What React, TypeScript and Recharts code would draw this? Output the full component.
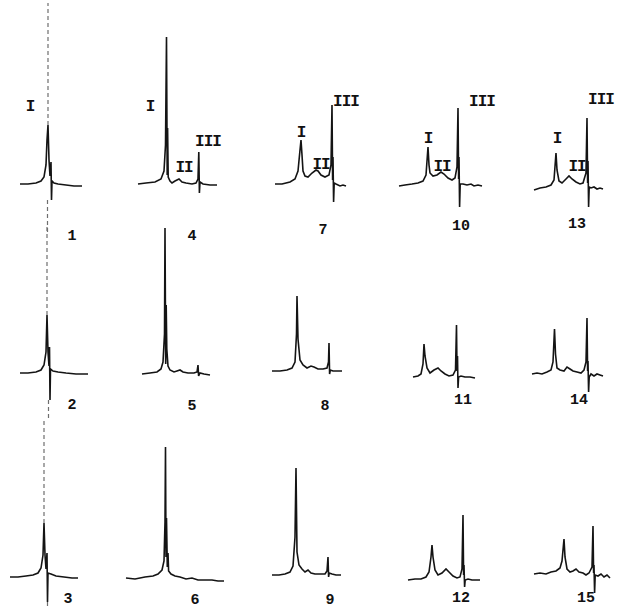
import React from "react";
import { LineChart, Line, XAxis, YAxis } from "recharts";

// traces: [time, response] pairs, response measured from each row's baseline
const trace1: [number, number][] = [[20,1],[28,1],[36,2],[41,4],[44,8],[46,20],[47,45],[48,60],[49,25],[50,9],[51,23],[51.5,-15],[52,4],[54,2],[58,1],[66,0],[74,-1],[82,-1]];
const trace2: [number, number][] = [[20,1],[28,1],[36,2],[41,4],[44,9],[46,22],[47,59],[48,22],[49,8],[49.5,27],[50,-26],[50.5,5],[53,3],[58,2],[66,1],[76,0],[88,0]];
const trace3: [number, number][] = [[10,0],[18,0],[26,1],[33,2],[38,4],[41,9],[43,22],[44,54],[45,22],[46,8],[47,24],[47.5,-25],[48,4],[51,3],[56,1],[64,0],[72,-1],[78,-1]];
const trace4: [number, number][] = [[18,1],[26,2],[35,3],[41,6],[44,14],[45.5,40],[46.5,148],[47.2,10],[47.6,57],[48.2,8],[50,4],[52,2],[55,4],[59,6],[62,3],[66,2],[72,1],[76,2],[78,6],[78.8,33],[79.4,-8],[80,3],[83,1],[90,0],[97,0]];
const trace5: [number, number][] = [[22,0],[30,1],[37,2],[41,5],[43,12],[44.5,40],[45,146],[45.7,10],[46.2,69],[46.8,25],[48,8],[50,4],[54,2],[57,3],[60,4],[63,2],[68,1],[74,1],[77,2],[78,9],[78.6,-2],[80,1],[84,0],[90,-1]];
const trace6: [number, number][] = [[6,-1],[15,-2],[25,0],[33,1],[38,3],[42,7],[44,16],[45,55],[45.5,130],[46,20],[46.5,59],[47.3,10],[48,24],[48.6,6],[51,3],[55,1],[60,0],[66,-2],[72,-1],[78,-3],[85,-3],[92,-3],[98,-4],[104,-4]];
const trace7: [number, number][] = [[15,1],[22,1],[30,3],[35,6],[38,14],[40,35],[41,45],[42,30],[43,14],[45,9],[48,8],[52,12],[56,15],[58,14],[61,10],[65,8],[69,10],[71,20],[72,80],[72.6,5],[73,28],[73.6,-17],[74.2,2],[76,1],[80,-1],[83,0],[86,-1]];
const trace8: [number, number][] = [[12,3],[20,3],[27,4],[32,6],[35,12],[36.5,40],[37,78],[38,35],[40,14],[43,9],[47,6],[51,8],[54,7],[58,5],[63,5],[67,6],[68.5,12],[69,31],[69.6,0],[70.3,4],[73,3],[78,3],[82,3]];
const trace9: [number, number][] = [[12,2],[19,2],[25,3],[30,5],[33,11],[35,40],[36,109],[37,25],[39,12],[42,8],[45,5],[48,7],[51,4],[55,3],[60,3],[65,3],[67,6],[68,20],[68.6,0],[69.2,4],[72,3],[76,2],[81,2]];
const trace10: [number, number][] = [[9,-1],[15,0],[22,1],[28,2],[33,4],[36,10],[38,38],[39,20],[40,12],[43,9],[47,10],[51,13],[54,11],[58,7],[62,5],[65,7],[67,18],[68,77],[68.6,6],[69,28],[69.6,-22],[70.2,1],[73,1],[77,0],[81,1],[84,-1],[88,0],[92,-1]];
const trace11: [number, number][] = [[23,-3],[28,-2],[31,0],[33,10],[34,30],[35,18],[37,6],[40,1],[44,4],[48,6],[51,3],[55,0],[59,-2],[63,-1],[65.5,4],[66.5,49],[67,3],[67.5,18],[68,-14],[68.6,-3],[71,-2],[75,-3],[80,-3],[85,-4]];
const trace12: [number, number][] = [[18,-3],[25,-2],[31,-2],[36,0],[39,5],[41,20],[42,32],[43,20],[45,7],[48,2],[52,4],[56,8],[59,5],[63,1],[67,-1],[70,0],[72,8],[73,62],[73.6,2],[74,12],[74.6,-10],[75.2,-3],[78,-2],[82,-3],[86,-3],[90,-3]];
const trace13: [number, number][] = [[14,-5],[20,-3],[26,-2],[31,0],[34,5],[36,32],[37,15],[39,4],[42,2],[46,6],[49,9],[52,6],[56,3],[60,1],[63,2],[66,12],[67,67],[67.6,2],[68,24],[68.6,-22],[69.2,-2],[71,-3],[74,-2],[77,-4],[80,-3],[83,-4]];
const trace14: [number, number][] = [[12,0],[17,1],[22,0],[27,2],[31,4],[33,12],[34.5,45],[35.5,20],[37,6],[40,4],[44,3],[47,7],[50,5],[53,3],[57,2],[61,1],[64,4],[66,12],[67,56],[67.6,3],[68,13],[68.6,-18],[69.2,-3],[71,0],[74,-2],[77,0],[80,-1],[83,-2]];
const trace15: [number, number][] = [[14,3],[20,4],[26,3],[31,5],[36,6],[40,9],[42,16],[44,38],[45,20],[47,8],[50,5],[53,6],[56,8],[59,5],[63,4],[66,2],[69,4],[72,10],[73,51],[73.6,4],[74,12],[74.6,-16],[75.2,2],[78,1],[81,3],[84,0],[87,2],[90,-1]];

// faint off-scale pen stroke of the main peak in the first column
const pen1: [number, number | null][] = [[48,60],[48,182],[48,null],[47.5,-15],[47.5,-50]];
const pen2: [number, number | null][] = [[47,59],[47,150],[47,null],[48.5,-26],[48.5,-46]];
const pen3: [number, number | null][] = [[44,54],[44,157],[44,null],[47.5,-25],[47.5,-32]];

const sampleNumbers = ["1", "2", "3", "4", "5", "6", "7", "8", "9", "10", "11", "12", "13", "14", "15"];
const peakNames = ["I", "II", "III"];

const ROWS = [
  { baseline: 185, top: 182, bottom: 50 },
  { baseline: 374, top: 150, bottom: 46 },
  { baseline: 577, top: 157, bottom: 32 },
];
const COLS = [0, 120, 260, 390, 520];

const panels = [
  { trace: trace1, pen: pen1, row: 0, col: 0, num: [72, 236] },
  { trace: trace2, pen: pen2, row: 1, col: 0, num: [72, 405] },
  { trace: trace3, pen: pen3, row: 2, col: 0, num: [68, 599] },
  { trace: trace4, row: 0, col: 1, num: [192, 236] },
  { trace: trace5, row: 1, col: 1, num: [192, 406] },
  { trace: trace6, row: 2, col: 1, num: [195, 600] },
  { trace: trace7, row: 0, col: 2, num: [323, 230] },
  { trace: trace8, row: 1, col: 2, num: [325, 406] },
  { trace: trace9, row: 2, col: 2, num: [330, 600] },
  { trace: trace10, row: 0, col: 3, num: [461, 226] },
  { trace: trace11, row: 1, col: 3, num: [463, 400] },
  { trace: trace12, row: 2, col: 3, num: [461, 598] },
  { trace: trace13, row: 0, col: 4, num: [577, 224] },
  { trace: trace14, row: 1, col: 4, num: [579, 400] },
  { trace: trace15, row: 2, col: 4, num: [586, 598] },
];

// peak label placements in the first row: [peak index, x, y]
const peakLabels: [number, number, number][] = [
  [0, 30, 107],
  [0, 150, 107], [1, 184, 168], [2, 208, 142],
  [0, 301, 133], [1, 321, 165], [2, 346, 102],
  [0, 428, 139], [1, 442, 167], [2, 482, 102],
  [0, 557, 139], [1, 577, 167], [2, 601, 100],
];

const textStyle: React.CSSProperties = {
  position: "absolute",
  transform: "translate(-50%, -50%)",
  fontFamily: "'Liberation Mono', 'DejaVu Sans Mono', monospace",
  fontWeight: "bold",
  fontSize: 15,
  color: "#111",
  lineHeight: 1,
  whiteSpace: "nowrap",
};

function Panel({ trace, pen, row, col }: any) {
  const { baseline, top, bottom } = ROWS[row];
  const width = 110;
  const height = top + bottom;
  const data = trace.map(([t, r]: [number, number]) => ({ t, r }));
  const penData = pen ? pen.map(([t, r]: [number, number | null]) => ({ t, r })) : null;
  return (
    <div style={{ position: "absolute", left: COLS[col], top: baseline - top, width, height }}>
      <LineChart width={width} height={height} margin={{ top: 0, right: 0, bottom: 0, left: 0 }}>
        <XAxis type="number" dataKey="t" domain={[0, width]} hide allowDataOverflow />
        <YAxis type="number" domain={[-bottom, top]} hide allowDataOverflow />
        {penData && (
          <Line data={penData} dataKey="r" stroke="#6e6e6e" strokeWidth={1.2} strokeDasharray="4 3"
            dot={false} isAnimationActive={false} connectNulls={false} />
        )}
        <Line data={data} dataKey="r" type="linear" stroke="#141414" strokeWidth={1.6}
          dot={false} isAnimationActive={false} />
      </LineChart>
    </div>
  );
}

export default function App() {
  return (
    <div style={{ position: "absolute", left: 0, top: 0, width: 620, height: 609, overflow: "hidden", background: "#fff" }}>
      {panels.map((p, i) => (
        <Panel key={i} {...p} />
      ))}
      {panels.map((p, i) => (
        <span key={"n" + i} style={{ ...textStyle, left: p.num[0], top: p.num[1] }}>
          {sampleNumbers[i]}
        </span>
      ))}
      {peakLabels.map(([k, x, y], i) => (
        <span key={"p" + i} style={{ ...textStyle, left: x, top: y, fontSize: 16, letterSpacing: -1 }}>
          {peakNames[k]}
        </span>
      ))}
    </div>
  );
}
